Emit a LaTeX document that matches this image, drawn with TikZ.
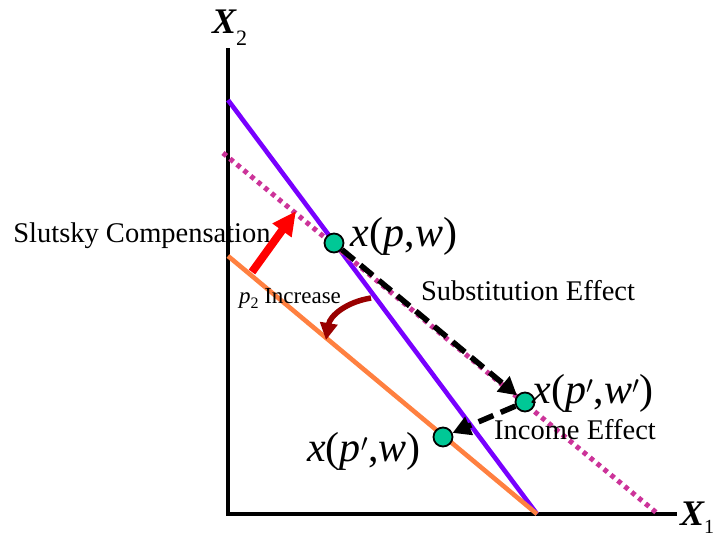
\documentclass[tikz,border=0pt]{standalone}
\usepackage{fontspec}
\setmainfont{Liberation Serif}
\usepackage{xcolor}
\usetikzlibrary{arrows.meta}

\definecolor{oldbudget}{RGB}{120,0,255}
\definecolor{newbudget}{RGB}{255,128,64}
\definecolor{compbudget}{RGB}{204,51,153}
\definecolor{bundlefill}{RGB}{0,200,150}
\definecolor{turnred}{RGB}{153,0,0}

\begin{document}
\begin{tikzpicture}[x=1pt, y=-1pt,
  axis/.style={line width=4pt, black, line join=miter},
  budget/.style={line width=4.6pt},
  bundle/.style={circle, draw=black, line width=1.8pt, fill=bundlefill,
                 minimum size=19pt, inner sep=0pt},
  effect/.style={-{Triangle[length=18pt,width=19pt]}, line width=5.5pt,
                 dash pattern=on 16pt off 8pt, black},
  comp/.style={-{Triangle[length=24pt,width=22pt]}, line width=8pt, red},
  turn/.style={-{Triangle[length=17pt,width=17pt]}, line width=5.5pt, turnred},
  lbl/.style={font=\fontsize{28.5}{30}\selectfont, anchor=base},
  bundlelbl/.style={font=\fontsize{42}{44}\selectfont, anchor=base},
  axislbl/.style={font=\fontsize{36}{38}\selectfont\bfseries\itshape,
                  anchor=base west, inner sep=0pt},
]
\useasboundingbox (0,0) rectangle (713,536);

\coordinate (ytop) at (228,48);
\coordinate (o)    at (228,514);
\coordinate (xend) at (677,514);
\coordinate (a0)   at (228,100);
\coordinate (m)    at (537,514);
\coordinate (b0)   at (228,256);
\coordinate (c0)   at (223,153);
\coordinate (c1)   at (658,514);

\draw[axis] (ytop) -- (o) -- (xend);
\draw[budget, oldbudget] (a0) -- (m);
\draw[budget, compbudget, line width=5pt, dash pattern=on 4.5pt off 4.5pt] (c0) -- (c1);
\draw[budget, newbudget] (b0) -- (m);

\node[axislbl] (x2) at (212,33)
  {X\raisebox{-12pt}{\fontsize{22}{23}\selectfont\mdseries\upshape 2}};
\node[axislbl] (x1) at (680,525)
  {X\raisebox{-8pt}{\fontsize{20}{21}\selectfont\mdseries\upshape 1}};

\node[bundle] (xpw)  at (334,243) {};
\node[bundle] (xpw2) at (525,402) {};
\node[bundle] (xpw1) at (443,437) {};

\node[lbl] (slutsky) at (142,242) {Slutsky Compensation};
\node[lbl] (subst)   at (528,300) {Substitution Effect};
\node[lbl] (income)  at (575,439) {Income Effect};
\node[font=\fontsize{23}{25}\selectfont, anchor=base] (incr) at (290,303)
  {\textit{p}\raisebox{-5pt}{\fontsize{16}{17}\selectfont 2} Increase};

\node[bundlelbl] (lpw)  at (404,246) {\textit{x}(\textit{p},\textit{w})};
\node[bundlelbl] (lpw2) at (593,403) {\textit{x}(\textit{p}$'$,\textit{w}$'$)};
\node[bundlelbl] (lpw1) at (364,461) {\textit{x}(\textit{p}$'$,\textit{w})};

\coordinate (r0) at (252,272);
\coordinate (r1) at (296,211);
\draw[comp] (r0) -- (r1);

\coordinate (t0) at (371,298);
\coordinate (t1) at (326,340);
\draw[turn] (t0) .. controls (346,302) and (330,316) .. (t1);

\draw[effect] (xpw) -- (xpw2);
\draw[effect] (xpw2) -- (xpw1);
\end{tikzpicture}
\end{document}
